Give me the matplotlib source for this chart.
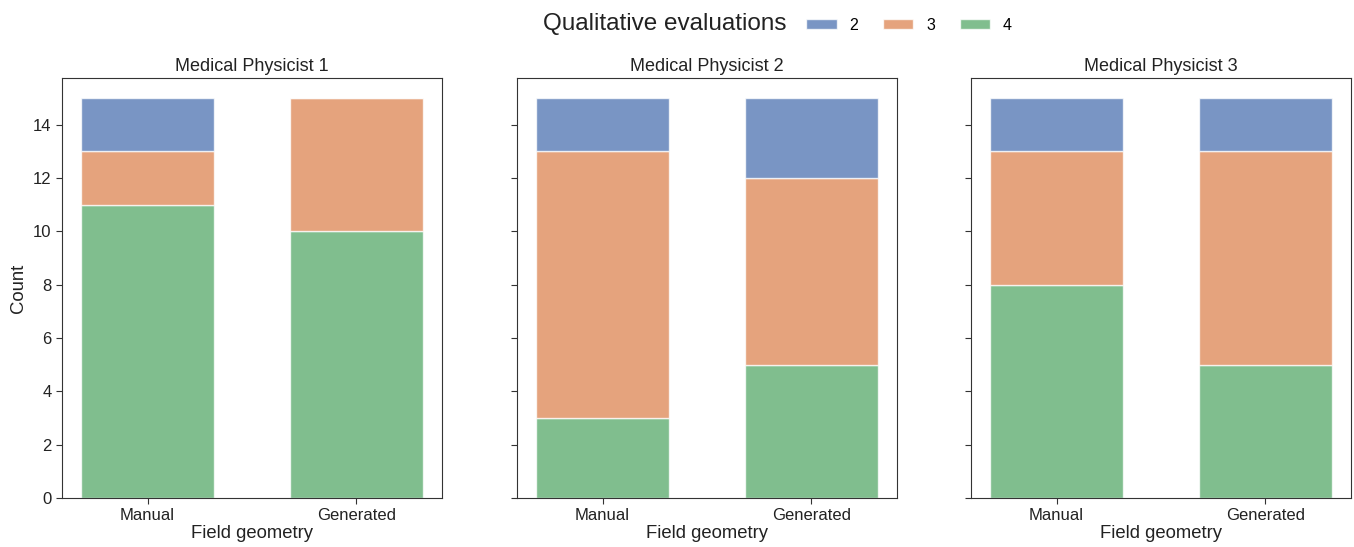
import matplotlib
matplotlib.use('Agg')
import matplotlib.pyplot as plt
from matplotlib.patches import Patch

plt.rcParams['font.family'] = ['Liberation Sans', 'DejaVu Sans']

# counts per rater, bars: Manual, Generated
raters = ['Medical Physicist 1', 'Medical Physicist 2', 'Medical Physicist 3']
geometries = ['Manual', 'Generated']
score_labels = ['2', '3', '4']
score4 = [[11, 10], [3, 5], [8, 5]]
score3 = [[2, 5], [10, 7], [5, 8]]
score2 = [[2, 0], [2, 3], [2, 2]]

# seaborn "deep" blue / orange / green
colors = {'2': '#4C72B0', '3': '#DD8452', '4': '#55A868'}
alpha = 0.75

fig = plt.figure(figsize=(13.54, 5.47), dpi=100)
lefts = [62, 517, 971]
axw = 380
axes = []
for k in range(3):
 if k == 0:
  ax = fig.add_axes([lefts[k]/1354, 49/547, axw/1354, 420/547])
 else:
  ax = fig.add_axes([lefts[k]/1354, 49/547, axw/1354, 420/547], sharey=axes[0])
 axes.append(ax)

w = 0.64
xs = [0, 1]
for k, ax in enumerate(axes):
 b4 = score4[k]
 b3 = score3[k]
 b2 = score2[k]
 ax.bar(xs, b4, width=w, color=colors['4'], alpha=alpha, edgecolor='white', lw=1)
 ax.bar(xs, b3, width=w, bottom=b4, color=colors['3'], alpha=alpha, edgecolor='white', lw=1)
 bot = [b4[i] + b3[i] for i in range(2)]
 ax.bar(xs, b2, width=w, bottom=bot, color=colors['2'], alpha=alpha, edgecolor='white', lw=1)
 ax.set_xlim(-0.41, 1.41)
 ax.set_ylim(0, 15.75)
 ax.set_xticks(xs)
 ax.set_xticklabels(geometries)
 ax.set_yticks(range(0, 15, 2))
 ax.tick_params(axis='both', labelsize=12, color='#333333', labelcolor='#222222', length=4)
 ax.set_title(raters[k], fontsize=13, color='#222222', pad=5)
 ax.set_xlabel('Field geometry', fontsize=13.3, color='#222222', labelpad=1)
 for s in ax.spines.values():
  s.set_color('#333333')
 if k == 0:
  ax.set_ylabel('Count', fontsize=13.3, color='#222222')
 else:
  plt.setp(ax.get_yticklabels(), visible=False)

fig.text(665/1354, 1 - 24/547, 'Qualitative evaluations', fontsize=17.5, ha='center', va='center', color='#222222')
handles = [Patch(facecolor=colors[s], alpha=alpha, edgecolor='white') for s in score_labels]
fig.legend(handles, score_labels, loc='center left', bbox_to_anchor=(792/1354, 1 - 25/547), ncol=3,
           frameon=False, fontsize=11.5, handlelength=1.9, handleheight=0.6, columnspacing=1.55, handletextpad=0.8)

fig.savefig('out.png', dpi=100)
